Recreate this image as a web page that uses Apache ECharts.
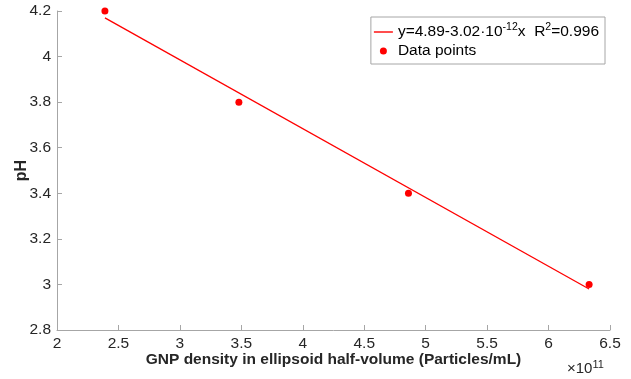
<!DOCTYPE html>
<html>
<head>
<meta charset="utf-8">
<script src="https://cdn.jsdelivr.net/npm/echarts@6/dist/echarts.min.js"></script>
<style>html,body{margin:0;padding:0;background:#fff}#c{width:631px;height:379px}</style>
</head>
<body>
<div id="c"></div>
<script>
// Data (x in units of 1e11 particles/mL)
var dataX = [2.39, 3.48, 4.86, 6.33];
var dataY = [4.2, 3.8, 3.4, 3.0];
var fitX = [2.39, 6.33];
var fitY = [4.17, 2.98];
var fitName = 'y=4.89-3.02·10^-12x  R^2=0.996';
var pointsName = 'Data points';
var xTicks = {min: 2, max: 6.5, interval: 0.5};
var yTicks = {min: 2.8, max: 4.2, interval: 0.2};

var chart = echarts.init(document.getElementById('c'), null, {renderer: 'canvas'});
var font = 'Liberation Sans, Arial, Helvetica, sans-serif';
var axisColor = '#a6a6a6';
var labelColor = '#262626';

function pairs(xs, ys){ return xs.map(function(x,i){ return [x, ys[i]]; }); }

chart.setOption({
  animation: false,
  textStyle: {fontFamily: font},
  grid: {left: 57, right: 21, top: 11, bottom: 49, containLabel: false, outerBoundsMode: 'none'},
  xAxis: {
    type: 'value', min: xTicks.min, max: xTicks.max, interval: xTicks.interval,
    axisLine: {lineStyle: {color: axisColor, width: 1}},
    axisTick: {inside: true, length: 5, lineStyle: {color: axisColor}},
    splitLine: {show: false},
    axisLabel: {color: labelColor, fontSize: 15.5, fontFamily: font, margin: 6,
      formatter: function(v){ return String(+v.toFixed(1)); }},
    name: 'GNP density in ellipsoid half-volume (Particles/mL)',
    nameLocation: 'middle', nameGap: 22, nameMoveOverlap: false,
    nameTextStyle: {fontWeight: 'bold', fontSize: 15.5, color: labelColor, fontFamily: font}
  },
  yAxis: {
    type: 'value', min: yTicks.min, max: yTicks.max, interval: yTicks.interval,
    axisLine: {show: true, lineStyle: {color: axisColor, width: 1}},
    axisTick: {show: true, inside: true, length: 5, lineStyle: {color: axisColor}},
    splitLine: {show: false},
    axisLabel: {color: labelColor, fontSize: 15.5, fontFamily: font, margin: 6,
      formatter: function(v){ return String(+v.toFixed(1)); }},
    name: 'pH', nameLocation: 'middle', nameGap: 27, nameRotate: 90, nameMoveOverlap: false,
    nameTextStyle: {fontWeight: 'bold', fontSize: 16, color: labelColor, fontFamily: font}
  },
  legend: {
    orient: 'vertical', right: 26, top: 17,
    borderColor: '#a6a6a6', borderWidth: 1, borderRadius: 0,
    backgroundColor: '#fff',
    padding: [5, 6, 5, 3], itemGap: 3, itemWidth: 19, itemHeight: 7,
    textStyle: {fontSize: 15.5, color: '#000', fontFamily: font,
      rich: {sup: {fontSize: 10.5, verticalAlign: 'top', padding: [0,0,9,0], color: '#000', fontFamily: font},
             n: {fontSize: 15.5, color: '#000', fontFamily: font}}},
    formatter: function(name){
      if (name === fitName) return '{n|y=4.89-3.02·10}{sup|-12}{n|x  R}{sup|2}{n|=0.996}';
      return '{n|' + name + '}';
    },
    data: [
      {name: fitName, icon: 'path://M0,0 L19,0 L19,1.4 L0,1.4 Z'},
      {name: pointsName, icon: 'circle'}
    ]
  },
  graphic: [{
    type: 'text', left: 567, top: 359,
    style: {text: '×10{s|11}', fill: labelColor, font: '15px ' + font,
      rich: {s: {fontSize: 11, verticalAlign: 'top', padding: [0,0,9,0], fill: labelColor, fontFamily: font}}}
  }],
  series: [
    {name: fitName, type: 'line', data: pairs(fitX, fitY), showSymbol: false, symbol: 'none',
     lineStyle: {color: '#ff0000', width: 1.3}, itemStyle: {color: '#ff0000'}, z: 2},
    {name: pointsName, type: 'scatter', data: pairs(dataX, dataY), symbol: 'circle', symbolSize: 7,
     itemStyle: {color: '#ff0000', opacity: 1, borderWidth: 0}, z: 3}
  ]
});
</script>
</body>
</html>
